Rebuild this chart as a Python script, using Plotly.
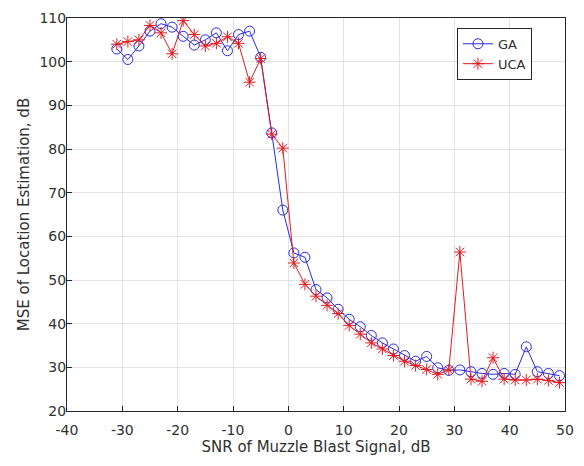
import plotly.graph_objects as go

# SNR sweep (dB)
snr = list(range(-31, 50, 2))

# MSE of location estimation (dB) for each method
mse_ga = [102.9, 100.5, 103.6, 107.0, 108.7, 107.9, 105.8, 103.8, 105.0, 106.6,
          102.5, 106.2, 107.0, 101.0, 83.7, 66.0, 56.2, 55.2, 47.8, 45.9,
          43.3, 41.0, 39.3, 37.3, 35.6, 34.2, 32.7, 31.4, 32.5, 29.9,
          29.3, 29.4, 29.0, 28.6, 28.4, 28.6, 28.4, 34.7, 29.0, 28.6, 28.1]
mse_uca = [104.0, 104.6, 105.0, 108.3, 106.6, 101.8, 109.4, 106.2, 103.6, 104.2,
           105.7, 104.2, 95.3, 100.7, 83.4, 80.2, 53.9, 49.0, 46.3, 44.2,
           42.3, 39.6, 37.6, 35.6, 34.2, 32.7, 31.4, 30.4, 29.5, 28.4,
           29.4, 56.4, 27.3, 26.8, 32.2, 27.3, 27.1, 27.1, 27.3, 27.0, 26.5]

x_ticks = list(range(-40, 51, 10))
x_labels = [str(v) for v in x_ticks]  # plain hyphen for negatives
y_ticks = list(range(20, 111, 10))

blue = "#2a2ae0"
red = "#e41a1f"
ink = "#303030"
font_family = "DejaVu Sans, Arial"

fig = go.Figure()
fig.add_trace(go.Scatter(
    x=snr, y=mse_ga, name="GA", mode="lines+markers",
    line=dict(color=blue, width=1),
    marker=dict(symbol="circle-open", size=10, color=blue, line=dict(width=1, color=blue)),
))
fig.add_trace(go.Scatter(
    x=snr, y=mse_uca, name="UCA", mode="lines+markers",
    line=dict(color=red, width=1),
    marker=dict(symbol="asterisk-open", size=10, color=red, line=dict(width=1, color=red)),
))

axis_common = dict(
    showgrid=True, gridcolor="#e3e3e3", gridwidth=1,
    showline=True, linecolor="#262626", linewidth=1, mirror=True,
    ticks="inside", ticklen=5, tickcolor="#262626",
    tickfont=dict(family=font_family, size=14, color=ink),
    zeroline=False,
)

fig.update_layout(
    width=584, height=466,
    margin=dict(l=67, r=10, t=10, b=55),
    paper_bgcolor="white", plot_bgcolor="white",
    font=dict(family=font_family, color=ink),
    showlegend=True,
    legend=dict(
        x=0.783, y=0.975, xanchor="left", yanchor="top",
        bordercolor="#262626", borderwidth=1, bgcolor="white",
        font=dict(family=font_family, size=13, color=ink),
        tracegroupgap=0,
    ),
    xaxis=dict(axis_common, range=[-40, 50], tickvals=x_ticks, ticktext=x_labels,
               ticklabelstandoff=6,
               title=dict(text="SNR of Muzzle Blast Signal, dB",
                          font=dict(family=font_family, size=15, color=ink), standoff=1)),
    yaxis=dict(axis_common, range=[20, 110], tickvals=y_ticks,
               ticklabelstandoff=-3,
               title=dict(text="MSE of Location Estimation, dB",
                          font=dict(family=font_family, size=15, color=ink), standoff=6)),
)

fig.write_html("out.html")
